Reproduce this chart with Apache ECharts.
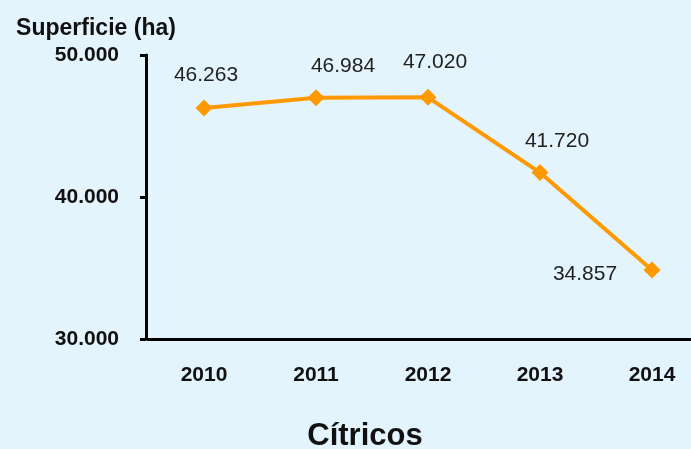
<!DOCTYPE html>
<html><head><meta charset="utf-8">
<script src="https://cdn.jsdelivr.net/npm/echarts@6/dist/echarts.min.js"></script>
<style>html,body{margin:0;padding:0;background:#E4F4FC}#c{width:691px;height:449px}</style>
</head><body><div id="c"></div>
<script>
var categories = ['2010', '2011', '2012', '2013', '2014'];
var superficie = [46263, 46984, 47020, 41720, 34857];
var yTicks = [30000, 40000, 50000];
var labelTexts = ['46.263', '46.984', '47.020', '41.720', '34.857'];

var offs = [[2, -33], [27, -32], [7, -35], [17, -31], [-67, 4]];
var chart = echarts.init(document.getElementById('c'));
var fmt = function (v) { return String(v / 1000) + '.000'; };
chart.setOption({
  backgroundColor: '#E4F4FC',
  animation: false,
  title: {
    text: 'Cítricos', left: 360, top: 416, textAlign: 'center',
    textStyle: { fontFamily: 'Liberation Sans', fontSize: 31, fontWeight: 'bold', color: '#111' }
  },
  grid: { left: 148, top: 55, width: 560, height: 284, outerBoundsMode: 'none', containLabel: false },
  xAxis: {
    type: 'category', data: categories, boundaryGap: true,
    axisLine: { lineStyle: { color: '#000', width: 3 } },
    axisTick: { alignWithLabel: true, length: 6, lineStyle: { color: '#000', width: 3 } },
    axisLabel: { margin: 26, fontFamily: 'Liberation Sans', fontSize: 21, fontWeight: 'bold', color: '#111' }
  },
  yAxis: {
    type: 'value', min: yTicks[0], max: yTicks[2], interval: 10000, offset: 2,
    name: 'Superficie (ha)', nameLocation: 'end', nameGap: 15,
    nameTextStyle: { fontFamily: 'Liberation Sans', fontSize: 23, fontWeight: 'bold', color: '#111', align: 'center', padding: [0, 100, 0, 0] },
    axisLine: { show: true, lineStyle: { color: '#000', width: 3 } },
    axisTick: { show: true, length: 6, lineStyle: { color: '#000', width: 3 } },
    splitLine: { show: false },
    axisLabel: { margin: 27, formatter: fmt, fontFamily: 'Liberation Sans', fontSize: 21, fontWeight: 'bold', color: '#111' }
  },
  series: [{
    type: 'line', data: superficie.map(function (v, i) {
      return { value: v, label: { offset: offs[i] } };
    }),
    lineStyle: { color: '#FF9900', width: 4 },
    itemStyle: { color: '#FF9900' },
    symbol: 'diamond', symbolSize: 17,
    label: {
      show: true, position: 'inside',
      formatter: function (p) { return labelTexts[p.dataIndex]; },
      fontFamily: 'Liberation Sans', fontSize: 21, color: '#222'
    }
  }]
});
</script></body></html>
